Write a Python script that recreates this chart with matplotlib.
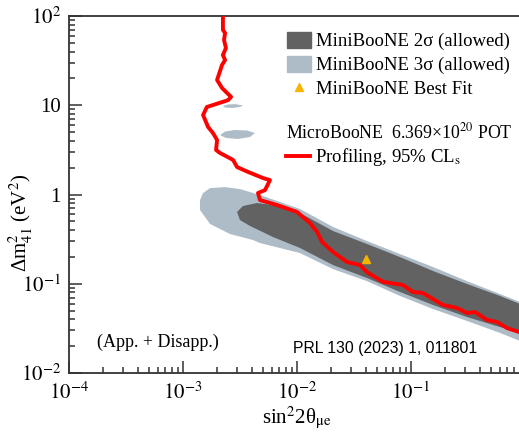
import numpy as np
import matplotlib
matplotlib.use("Agg")
import matplotlib.pyplot as plt
from matplotlib.patches import Patch
from matplotlib.lines import Line2D

plt.rcParams['font.family'] = ['Liberation Serif', 'DejaVu Serif']
plt.rcParams['mathtext.fontset'] = 'stix'

# MicroBooNE 95% CLs exclusion contour (profiling)
red_x = [2.24e-3, 2.24e-3, 2.34e-3, 2.29e-3, 2.38e-3, 2.24e-3, 2.34e-3, 2.20e-3, 1.99e-3, 2.20e-3,
         2.64e-3, 2.48e-3, 1.62e-3, 1.50e-3, 1.66e-3, 1.83e-3, 1.99e-3, 1.95e-3, 2.11e-3, 2.75e-3,
         2.98e-3, 3.72e-3, 5.03e-3, 5.79e-3, 5.24e-3, 4.55e-3, 4.73e-3, 6.68e-3, 1.00e-2, 1.30e-2,
         1.50e-2, 1.66e-2, 2.07e-2, 2.75e-2, 3.57e-2, 4.11e-2, 5.68e-2, 8.51e-2, 0.104, 0.127,
         0.191, 0.253, 0.310, 0.364, 0.464, 0.568, 0.695, 0.886, 1.0]
red_y = [100, 69.7, 64.5, 53.9, 43.8, 36.5, 32.1, 28.3, 19.2, 15.6,
         12.4, 11.4, 9.56, 7.78, 5.70, 4.89, 4.08, 3.15, 2.92, 2.44,
         2.03, 1.79, 1.53, 1.45, 1.12, 1.04, 0.867, 0.762, 0.637, 0.480,
         0.380, 0.294, 0.227, 0.175, 0.162, 0.135, 0.105, 0.0968, 0.0809, 0.0788,
         0.0578, 0.0535, 0.0470, 0.0482, 0.0393, 0.0373, 0.0319, 0.0288, 0.0267]

# MiniBooNE 3 sigma allowed region (main band + islands)
s3_x = [1.41e-3, 1.50e-3, 1.73e-3, 2.34e-3, 3.16e-3, 4.73e-3, 7.10e-3, 1.06e-2, 2.07e-2, 4.11e-2,
        8.01e-2, 0.156, 0.310, 0.604, 1.0, 1.0, 0.604, 0.310, 0.156, 8.01e-2,
        4.11e-2, 2.07e-2, 1.06e-2, 4.73e-3, 4.11e-3, 2.58e-3, 1.73e-3, 1.41e-3]
s3_y = [0.867, 1.04, 1.18, 1.21, 1.15, 0.987, 0.824, 0.689, 0.433, 0.301,
        0.215, 0.154, 0.107, 0.0767, 0.0593, 0.0217, 0.0281, 0.0383, 0.0521, 0.0730,
        0.107, 0.146, 0.221, 0.286, 0.309, 0.361, 0.467, 0.670]
isl1_x = [2.24e-3, 2.48e-3, 2.86e-3, 3.36e-3, 3.16e-3, 2.69e-3, 2.34e-3]
isl1_y = [9.82, 10.2, 10.3, 9.94, 9.56, 9.31, 9.44]
isl2_x = [2.11e-3, 2.34e-3, 2.86e-3, 3.64e-3, 4.28e-3, 3.87e-3, 3.03e-3, 2.38e-3]
isl2_y = [4.64, 5.08, 5.28, 5.21, 4.89, 4.41, 4.19, 4.30]

# MiniBooNE 2 sigma allowed region
s2_x = [2.98e-3, 3.36e-3, 4.46e-3, 6.15e-3, 1.06e-2, 2.07e-2, 4.11e-2, 8.01e-2, 0.156, 0.310,
        0.604, 1.0, 1.0, 0.604, 0.310, 0.156, 8.01e-2, 4.11e-2, 2.07e-2, 1.06e-2,
        6.15e-3, 3.87e-3, 3.16e-3]
s2_y = [0.637, 0.743, 0.803, 0.762, 0.621, 0.390, 0.279, 0.199, 0.139, 0.0993,
        0.0730, 0.0564, 0.0281, 0.0327, 0.0424, 0.0578, 0.0809, 0.116, 0.162, 0.252,
        0.334, 0.444, 0.517]

best_fit = (0.040, 0.19)

light = '#aebcc7'
dark = '#626262'

fig = plt.figure(figsize=(5.19, 4.32), dpi=100)
ax = fig.add_axes([69/519, 1-373/432, 456/519, 357/432])

ax.fill(s3_x, s3_y, color=light, lw=0)
ax.fill(isl1_x, isl1_y, color=light, lw=0)
ax.fill(isl2_x, isl2_y, color=light, lw=0)
ax.fill(s2_x, s2_y, color=dark, lw=0)
ax.plot(red_x, red_y, color='#ff0000', lw=2.8, solid_joinstyle='round', zorder=3)
ax.plot(*best_fit, marker='^', color='#f7b500', ms=6, ls='none', zorder=4)

ax.set_xscale('log')
ax.set_yscale('log')
ax.set_xlim(1e-4, 1)
ax.set_ylim(1e-2, 1e2)

ax.set_xticks([1e-4, 1e-3, 1e-2, 1e-1])
ax.set_xticklabels([r'$10^{-4}$', r'$10^{-3}$', r'$10^{-2}$', r'$10^{-1}$'])
ax.set_yticks([1e-2, 1e-1, 1, 10, 1e2])
ax.set_yticklabels([r'$10^{-2}$', r'$10^{-1}$', '1', '10', r'$10^{2}$'])

for s in ['left', 'bottom', 'top']:
    ax.spines[s].set_linewidth(1.3)
    ax.spines[s].set_color('#333333')
ax.spines['right'].set_visible(False)
ax.tick_params(which='both', direction='in', colors='#333333', width=1.1, labelsize=15,
               labelcolor='black')
ax.tick_params(which='major', length=9, pad=6)
ax.tick_params(axis='x', which='major', pad=7)
ax.tick_params(which='minor', length=4.5)

ax.set_xlabel(r'sin$^2$2θ$_{\mathrm{\mu e}}$', fontsize=15, labelpad=0)
ax.set_ylabel(r'Δm$^2_{41}$ (eV$^2$)', fontsize=15)
ax.yaxis.set_label_coords(-0.075, 0.42)

ax.text(97/519, 1-342/432, '(App. + Disapp.)', transform=fig.transFigure, fontsize=13,
        va='center', ha='left')
ax.text(293/519, 1-348/432, 'PRL 130 (2023) 1, 011801', transform=fig.transFigure,
        fontsize=11.3, family='Liberation Sans', va='center', ha='left')

h1 = [Patch(color=dark), Patch(color=light),
      Line2D([], [], marker='^', color='#f7b500', ls='none', ms=6)]
leg1 = ax.legend(h1, ['MiniBooNE 2σ (allowed)', 'MiniBooNE 3σ (allowed)', 'MiniBooNE Best Fit'],
                 loc='upper left', bbox_to_anchor=(287/519, 1-32/432),
                 bbox_transform=fig.transFigure, frameon=False, fontsize=13.5,
                 borderpad=0, borderaxespad=0, handlelength=1.3, handleheight=0.9,
                 handletextpad=0.25, labelspacing=0.3)
ax.add_artist(leg1)
h2 = [Line2D([], [], color='#ff0000', lw=2.8)]
leg2 = ax.legend(h2, [r'Profiling, 95% CL$_{\mathrm{s}}$'],
                 title=r'MicroBooNE  6.369×10$^{20}$ POT', title_fontsize=12.8,
                 alignment='left', loc='upper left', bbox_to_anchor=(286/519, 1-122/432),
                 bbox_transform=fig.transFigure, frameon=False, fontsize=13.5,
                 borderpad=0, borderaxespad=0, handlelength=1.3,
                 handletextpad=0.25, labelspacing=0.2)
leg2._legend_box.sep = 3

fig.savefig('out.png', dpi=100)
